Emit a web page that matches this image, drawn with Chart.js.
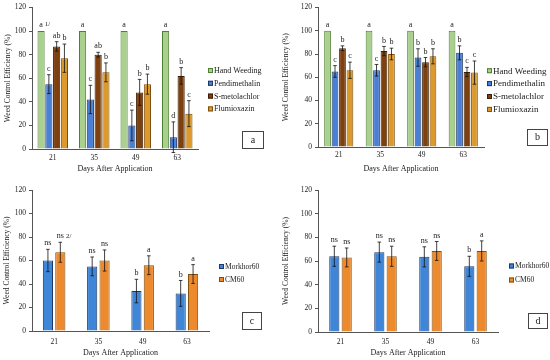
<!DOCTYPE html>
<html>
<head>
<meta charset="utf-8">
<script src="https://cdn.jsdelivr.net/npm/chart.js@4.4.0/dist/chart.umd.min.js"></script>
<style>
body { margin: 0; background: #fff; }
#wrap { position: relative; width: 550px; height: 360px; }
.panel { position: absolute; width: 275px; height: 180px; }
</style>
</head>
<body>
<div id="wrap">
  <div class="panel" style="left:0;top:0"><canvas id="chartA" width="275" height="180"></canvas></div>
  <div class="panel" style="left:275px;top:0"><canvas id="chartB" width="275" height="180"></canvas></div>
  <div class="panel" style="left:0;top:180px"><canvas id="chartC" width="275" height="180"></canvas></div>
  <div class="panel" style="left:275px;top:180px"><canvas id="chartD" width="275" height="180"></canvas></div>
</div>
<script>
const days = ["21", "35", "49", "63"];

// panel a
const aHandWeeding = [100, 100, 100, 100];
const aHandWeedingErr = [0, 0, 0, 0];
const aHandWeedingLetters = ["a", "a", "a", "a"];
const aHandWeedingNotes = ["1/", "", "", ""];
const aPendimethalin = [55, 42, 20, 10];
const aPendimethalinErr = [8, 12, 13, 13];
const aPendimethalinLetters = ["c", "c", "c", "d"];
const aSmetolachlor = [87, 80, 48, 62];
const aSmetolachlorErr = [4, 2, 11, 7];
const aSmetolachlorLetters = ["ab", "ab", "b", "b"];
const aFlumioxazin = [77, 65, 55, 30];
const aFlumioxazinErr = [12, 8, 8.5, 11];
const aFlumioxazinLetters = ["b", "b", "b", "c"];

// panel b
const bHandWeeding = [100, 100, 100, 100];
const bHandWeedingErr = [0, 0, 0, 0];
const bHandWeedingLetters = ["a", "a", "a", "a"];
const bPendimethalin = [65, 66, 77, 81];
const bPendimethalinErr = [5, 5, 7.5, 6];
const bPendimethalinLetters = ["c", "c", "b", "b"];
const bSmetolachlor = [85, 82.5, 73, 64.5];
const bSmetolachlorErr = [2, 4, 4, 4];
const bSmetolachlorLetters = ["b", "b", "b", "c"];
const bFlumioxazin = [66, 80, 78, 64];
const bFlumioxazinErr = [7, 5, 6.5, 10];
const bFlumioxazinLetters = ["c", "b", "b", "c"];

// panel c
const cMorkhor60 = [60, 55, 34, 32];
const cMorkhor60Err = [9.5, 8, 10, 11];
const cMorkhor60Letters = ["ns", "ns", "b", "b"];
const cCM60 = [67, 60, 56, 48.5];
const cCM60Err = [8.5, 9, 8, 8];
const cCM60Letters = ["ns", "ns", "a", "a"];
const cCM60Notes = ["2/", "", "", ""];

// panel d
const dMorkhor60 = [64, 67.5, 63.5, 55.5];
const dMorkhor60Err = [8.5, 8.5, 8.5, 8.5];
const dMorkhor60Letters = ["ns", "ns", "ns", "b"];
const dCM60 = [63, 64, 68.5, 68.5];
const dCM60Err = [8, 8.5, 8, 8.5];
const dCM60Letters = ["ns", "ns", "ns", "a"];

const serif = '"Liberation Serif", "DejaVu Serif", serif';
const textColor = "#1a1a1a";
const axisColor = "#555";

const colors = {
    hand: ["#a9d08e", "#4f7f30"],
    pend: ["#4a7fd6", "#1f3864"],
    smet: ["#7f4010", "#3b1f05"],
    flum: ["#dc9a2c", "#7f4f0f"],
    mork: ["#3f86d8", "#1f3864"],
    cm: ["#ee8a2e", "#7f4f0f"]
};

// error bars + significance letters
const errorBars = {
    id: "errorBars",
    afterDatasetsDraw(chart) {
        const ctx = chart.ctx;
        const y = chart.scales.y;
        chart.data.datasets.forEach((ds, i) => {
            const meta = chart.getDatasetMeta(i);
            meta.data.forEach((bar, j) => {
                const v = ds.data[j];
                const e = ds.errors[j];
                const top = y.getPixelForValue(v + e);
                const bot = y.getPixelForValue(v - e);
                ctx.save();
                if (e > 0) {
                    ctx.strokeStyle = "#111";
                    ctx.lineWidth = 0.8;
                    ctx.beginPath();
                    ctx.moveTo(bar.x, top);
                    ctx.lineTo(bar.x, bot);
                    ctx.moveTo(bar.x - 1.8, top);
                    ctx.lineTo(bar.x + 1.8, top);
                    ctx.moveTo(bar.x - 1.8, bot);
                    ctx.lineTo(bar.x + 1.8, bot);
                    ctx.stroke();
                }
                ctx.fillStyle = textColor;
                ctx.font = "8px " + serif;
                ctx.textAlign = "center";
                ctx.textBaseline = "bottom";
                const ly = (e > 0 ? top : y.getPixelForValue(v)) - 2;
                ctx.fillText(ds.letters[j], bar.x, ly);
                if (ds.notes && ds.notes[j]) {
                    const w = ctx.measureText(ds.letters[j]).width;
                    ctx.font = "7px " + serif;
                    ctx.textAlign = "left";
                    ctx.fillText(ds.notes[j], bar.x + w / 2 + 2, ly - 1);
                }
                ctx.restore();
            });
        });
    }
};

// legend on the right side
const sideLegend = {
    id: "sideLegend",
    afterDraw(chart, args, opts) {
        const ctx = chart.ctx;
        ctx.save();
        chart.data.datasets.forEach((ds, i) => {
            const yy = opts.y + i * opts.dy;
            ctx.fillStyle = ds.backgroundColor;
            ctx.strokeStyle = ds.borderColor;
            ctx.lineWidth = 1;
            ctx.fillRect(opts.x, yy - 2.5, 5, 5);
            ctx.strokeRect(opts.x + 0.5, yy - 2, 4, 4);
            ctx.fillStyle = textColor;
            ctx.font = opts.size + "px " + serif;
            ctx.textAlign = "left";
            ctx.textBaseline = "middle";
            ctx.fillText(ds.label, opts.x + 6, yy + 0.5);
        });
        ctx.restore();
    }
};

// boxed panel letter
const panelTag = {
    id: "panelTag",
    afterDraw(chart, args, opts) {
        const ctx = chart.ctx;
        ctx.save();
        ctx.strokeStyle = "#444";
        ctx.lineWidth = 1;
        ctx.strokeRect(opts.x + 0.5, opts.y + 0.5, opts.w, opts.h);
        ctx.fillStyle = textColor;
        ctx.font = "10px " + serif;
        ctx.textAlign = "center";
        ctx.textBaseline = "middle";
        ctx.fillText(opts.text, opts.x + opts.w / 2 + 0.5, opts.y + opts.h / 2 + 0.5);
        ctx.restore();
    }
};

function series(label, data, err, letters, col, notes) {
    return { label: label, data: data, errors: err, letters: letters, notes: notes,
             backgroundColor: col[0], borderColor: col[1], borderWidth: 1 };
}

function makePanel(id, sets, cfg) {
    sets.forEach(s => { s.categoryPercentage = cfg.cat; s.barPercentage = cfg.bar; });
    new Chart(document.getElementById(id), {
        type: "bar",
        data: { labels: days, datasets: sets },
        options: {
            responsive: false,
            animation: false,
            devicePixelRatio: 1,
            layout: { padding: { left: 0, right: 275 - cfg.right, top: cfg.top, bottom: 0 } },
            plugins: {
                legend: { display: false },
                tooltip: { enabled: false },
                sideLegend: cfg.legend,
                panelTag: cfg.tag
            },
            scales: {
                x: {
                    grid: { drawOnChartArea: false, drawTicks: false },
                    border: { color: axisColor, width: 1 },
                    ticks: { font: { family: serif, size: 7.5 }, color: textColor, padding: cfg.xPad },
                    title: { display: true, text: "Days After Application", color: textColor,
                             font: { family: serif, size: 8 }, padding: { top: 0, bottom: cfg.titleB } },
                    afterFit: s => { s.height = 180 - cfg.bottom; }
                },
                y: {
                    min: 0, max: 120,
                    grid: { drawOnChartArea: false, tickLength: 3, color: axisColor },
                    border: { color: axisColor, width: 1 },
                    ticks: { stepSize: 20, font: { family: serif, size: 7.5 }, color: textColor, padding: 3 },
                    title: { display: true, text: "Weed Control Efficiency (%)", color: textColor,
                             font: { family: serif, size: 7.5 }, padding: { top: cfg.titleL, bottom: 0 } },
                    afterFit: s => { s.width = cfg.left; }
                }
            }
        },
        plugins: [errorBars, sideLegend, panelTag]
    });
}

makePanel("chartA", [
    series("Hand Weeding", aHandWeeding, aHandWeedingErr, aHandWeedingLetters, colors.hand, aHandWeedingNotes),
    series("Pendimethalin", aPendimethalin, aPendimethalinErr, aPendimethalinLetters, colors.pend),
    series("S-metolachlor", aSmetolachlor, aSmetolachlorErr, aSmetolachlorLetters, colors.smet),
    series("Flumioxazin", aFlumioxazin, aFlumioxazinErr, aFlumioxazinLetters, colors.flum)
], { left: 32, right: 198, top: 7, bottom: 149, cat: 0.75, bar: 0.92, xPad: 5, titleB: 6, titleL: 4,
     legend: { x: 208, y: 70.5, dy: 12.8, size: 8 }, tag: { text: "a", x: 242, y: 131, w: 21, h: 17 } });

makePanel("chartB", [
    series("Hand Weeding", bHandWeeding, bHandWeedingErr, bHandWeedingLetters, colors.hand),
    series("Pendimethalin", bPendimethalin, bPendimethalinErr, bPendimethalinLetters, colors.pend),
    series("S-metolachlor", bSmetolachlor, bSmetolachlorErr, bSmetolachlorLetters, colors.smet),
    series("Flumioxazin", bFlumioxazin, bFlumioxazinErr, bFlumioxazinLetters, colors.flum)
], { left: 43, right: 209, top: 7, bottom: 147, cat: 0.72, bar: 0.9, xPad: 4, titleB: 6, titleL: 7,
     legend: { x: 212, y: 70.7, dy: 12.9, size: 9 }, tag: { text: "b", x: 252, y: 129, w: 20, h: 16 } });

makePanel("chartC", [
    series("Morkhor60", cMorkhor60, cMorkhor60Err, cMorkhor60Letters, colors.mork),
    series("CM60", cCM60, cCM60Err, cCM60Letters, colors.cm, cCM60Notes)
], { left: 32, right: 209, top: 10, bottom: 151, cat: 0.56, bar: 0.82, xPad: 7, titleB: 2, titleL: 3,
     legend: { x: 219, y: 86.5, dy: 13, size: 7.5 }, tag: { text: "c", x: 242, y: 132, w: 19, h: 17 } });

makePanel("chartD", [
    series("Morkhor60", dMorkhor60, dMorkhor60Err, dMorkhor60Letters, colors.mork),
    series("CM60", dCM60, dCM60Err, dCM60Letters, colors.cm)
], { left: 43, right: 223, top: 10, bottom: 152, cat: 0.55, bar: 0.82, xPad: 6, titleB: 2, titleL: 7,
     legend: { x: 234, y: 86, dy: 14, size: 7.5 }, tag: { text: "d", x: 253, y: 133, w: 19, h: 15 } });
</script>
</body>
</html>
